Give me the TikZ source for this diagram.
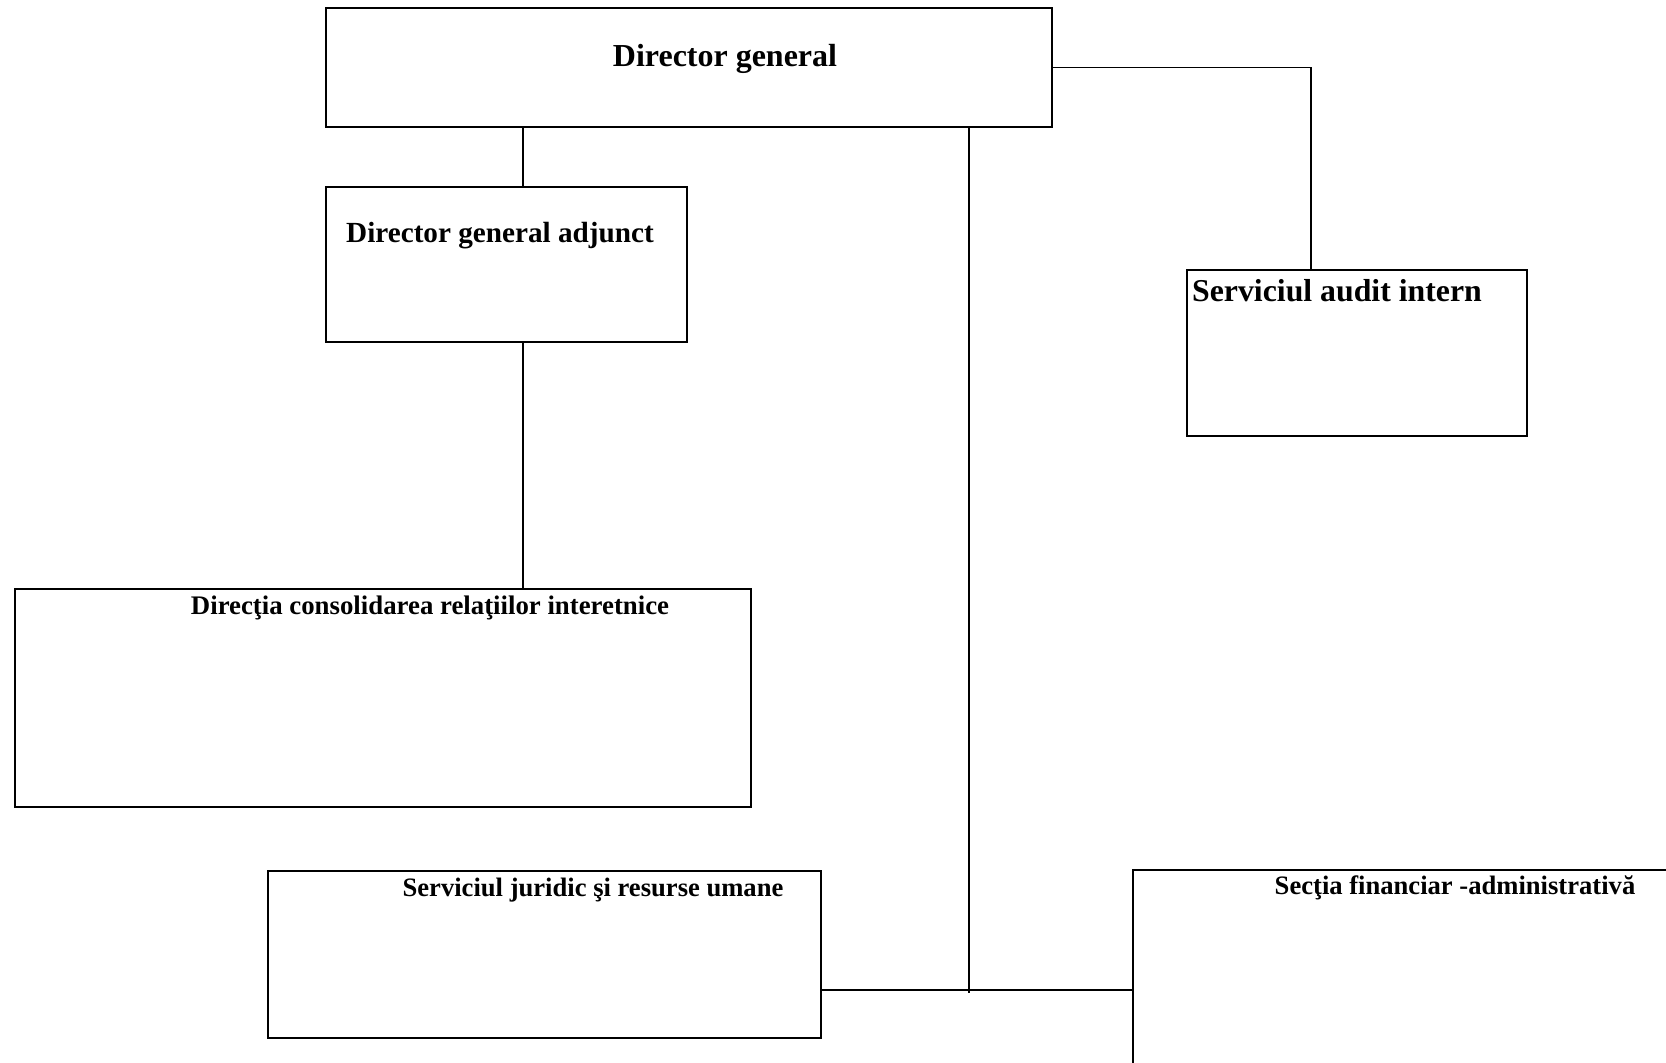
\documentclass[tikz,border=0pt]{standalone}
\usepackage{fontspec}
\setmainfont{Liberation Serif}

\begin{document}
\begin{tikzpicture}[x=0.5pt, y=-0.5pt,
  unit/.style={rectangle, draw=black, line width=0.9pt, anchor=north west, inner sep=0pt},
  title/.style={inner sep=0pt, text=black},
  link/.style={black, line width=0.7pt}
]
\useasboundingbox (0,0) rectangle (1666,1062);
\clip (0,0) rectangle (1666,1062);
% boxes
\node[unit, minimum width=363pt, minimum height=59.5pt] (dg) at (325,7) {};
\node[unit, minimum width=180.5pt, minimum height=77.5pt] (adj) at (325,186) {};
\node[unit, minimum width=170pt, minimum height=83pt] (aud) at (1186,269) {};
\node[unit, minimum width=368pt, minimum height=109pt] (dir) at (14,588) {};
\node[unit, minimum width=276.5pt, minimum height=83.5pt] (jur) at (267,870) {};
\node[unit, minimum width=300pt, minimum height=125pt] (sec) at (1132,869) {};
% titles
\node[title, font=\fontsize{16pt}{19pt}\selectfont\bfseries] (dgtext) at (725,59) {Director general};
\node[title, font=\fontsize{14.6pt}{17pt}\selectfont\bfseries] (adjtext) at (500,236) {Director general adjunct};
\node[title, font=\fontsize{15.9pt}{19pt}\selectfont\bfseries] (audtext) at (1337,291) {Serviciul audit intern};
\node[title, font=\fontsize{13.4pt}{16pt}\selectfont\bfseries] (dirtext) at (430,608) {Direcţia consolidarea relaţiilor interetnice};
\node[title, font=\fontsize{13.3pt}{16pt}\selectfont\bfseries] (jurtext) at (593,890) {Serviciul juridic şi resurse umane};
\node[title, font=\fontsize{13.3pt}{16pt}\selectfont\bfseries] (sectext) at (1455,888) {Secţia financiar -administrativă};
% connectors
\coordinate (adjx) at (523,0);
\coordinate (audx) at (1311,0);
\coordinate (hub) at (969,990);
\draw[link] (dg.south -| adjx) -- (adj.north -| adjx);
\draw[link] (adj.south -| adjx) -- (dir.north -| adjx);
\draw[link] (dg.east) -| (aud.north -| audx);
\draw[link] (dg.south -| hub) -- ([yshift=-1.5pt]hub);
\draw[link] (jur.east |- hub) -- (sec.west |- hub);
\end{tikzpicture}
\end{document}
